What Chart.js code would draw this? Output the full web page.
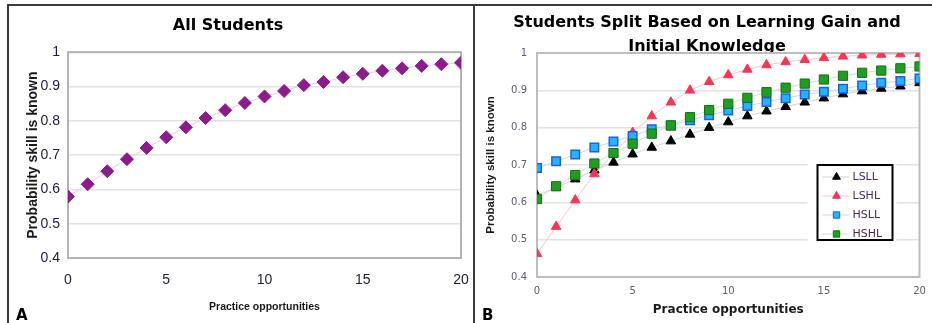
<!DOCTYPE html>
<html>
<head>
<meta charset="utf-8">
<script src="https://cdn.jsdelivr.net/npm/chart.js@4.4.1/dist/chart.umd.min.js"></script>
<style>
body { margin: 0; background: #fff; width: 932px; height: 323px; overflow: hidden; position: relative; }
canvas { position: absolute; top: 0; }
.frame { position: absolute; background: #3a3a3a; }
.tag { position: absolute; font: bold 15px "DejaVu Sans"; color: #000; }
</style>
</head>
<body>
<canvas id="chartA" width="485" height="323" style="left:-10px"></canvas>
<canvas id="chartB" width="451" height="323" style="left:476px"></canvas>
<div class="frame" style="left:7px;top:4px;width:925px;height:2px"></div>
<div class="frame" style="left:7px;top:4px;width:2px;height:319px"></div>
<div class="frame" style="left:473px;top:4px;width:2px;height:319px"></div>
<div class="tag" style="left:16px;top:306px">A</div>
<div class="tag" style="left:482px;top:306px">B</div>
<script>
// data
const opportunities = [0, 1, 2, 3, 4, 5, 6, 7, 8, 9, 10, 11, 12, 13, 14, 15, 16, 17, 18, 19, 20];
const allStudents = [0.579, 0.615, 0.653, 0.688, 0.721, 0.752, 0.781, 0.808, 0.831, 0.852, 0.871,
    0.887, 0.904, 0.913, 0.927, 0.937, 0.946, 0.953, 0.960, 0.965, 0.969];
const lsll = [0.618, 0.640, 0.662, 0.686, 0.707, 0.729, 0.747, 0.764, 0.782, 0.800, 0.815,
    0.831, 0.844, 0.856, 0.868, 0.879, 0.890, 0.898, 0.905, 0.911, 0.920];
const lshl = [0.462, 0.535, 0.606, 0.676, 0.730, 0.787, 0.831, 0.868, 0.900, 0.923, 0.941,
    0.956, 0.968, 0.976, 0.982, 0.987, 0.991, 0.994, 0.996, 0.997, 0.998];
const hsll = [0.692, 0.710, 0.728, 0.747, 0.763, 0.778, 0.796, 0.806, 0.820, 0.833, 0.846,
    0.858, 0.869, 0.879, 0.889, 0.896, 0.904, 0.913, 0.920, 0.925, 0.932];
const hshl = [0.609, 0.643, 0.673, 0.704, 0.732, 0.757, 0.784, 0.806, 0.828, 0.847, 0.864,
    0.880, 0.895, 0.907, 0.918, 0.929, 0.939, 0.947, 0.953, 0.959, 0.964];
const yTicks = [0.4, 0.5, 0.6, 0.7, 0.8, 0.9, 1];
const xTicks = [0, 5, 10, 15, 20];

const points = vals => opportunities.map((x, i) => ({ x: x, y: vals[i] }));

// grey box round the plot area
const plotFrame = {
    id: 'plotFrame',
    beforeDatasetsDraw(chart, args, opts) {
        const { ctx, chartArea: a } = chart;
        ctx.save();
        ctx.strokeStyle = opts.color;
        ctx.lineWidth = opts.width;
        ctx.strokeRect(a.left, a.top, a.right - a.left, a.bottom - a.top);
        ctx.restore();
    }
};

// boxed legend inside the plot, like the Excel one
const boxLegend = {
    id: 'boxLegend',
    afterDraw(chart) {
        const { ctx, chartArea: a } = chart;
        const x0 = a.right - 102, y0 = a.top + 112, w = 75, h = 75;
        ctx.save();
        ctx.fillStyle = '#fff';
        ctx.fillRect(x0 - 10, y0 - 5, w + 14, h + 10);
        ctx.strokeStyle = '#000';
        ctx.lineWidth = 2;
        ctx.strokeRect(x0, y0, w, h);
        chart.data.datasets.forEach((ds, i) => {
            const y = y0 + 12 + i * 19;
            ctx.strokeStyle = ds.borderColor;
            ctx.lineWidth = 1;
            ctx.beginPath();
            ctx.moveTo(x0 + 5, y);
            ctx.lineTo(x0 + 32, y);
            ctx.stroke();
            ctx.fillStyle = ds.pointBackgroundColor;
            ctx.strokeStyle = ds.pointBorderColor;
            Chart.helpers.drawPoint(ctx, { pointStyle: ds.pointStyle, rotation: 0, radius: 4.5, borderWidth: 1 }, x0 + 19, y);
            ctx.fillStyle = '#4a2a5e';
            ctx.font = '11px "DejaVu Sans"';
            ctx.textBaseline = 'middle';
            ctx.textAlign = 'left';
            ctx.fillText(ds.label, x0 + 35, y);
        });
        ctx.restore();
    }
};

function axes(o) {
    return {
        x: {
            type: 'linear', min: 0, max: 20,
            afterBuildTicks: s => { s.ticks = xTicks.map(v => ({ value: v })); },
            afterFit: s => { s.height = o.xHeight; },
            grid: { display: false },
            border: { display: false },
            ticks: { font: o.tickFont, color: o.tickColor, padding: o.xPad, callback: v => String(v) },
            title: { display: true, text: 'Practice opportunities', font: o.xTitleFont, color: '#1a1a1a', padding: { top: 4, bottom: o.xTitlePad } }
        },
        y: {
            min: 0.4, max: 1,
            afterBuildTicks: s => { s.ticks = yTicks.map(v => ({ value: v })); },
            afterFit: s => { s.width = o.yWidth; },
            grid: { color: '#e2e2e2', lineWidth: 1.5, drawTicks: false },
            border: { display: false },
            ticks: { font: o.tickFont, color: o.tickColor, padding: o.yPad, callback: v => String(v) },
            title: { display: true, text: 'Probability skill is known', font: o.yTitleFont, color: '#1a1a1a', padding: { top: o.yTitlePad, bottom: 0 } }
        }
    };
}

new Chart(document.getElementById('chartA'), {
    type: 'line',
    data: {
        datasets: [{
            label: 'All Students',
            data: points(allStudents),
            borderColor: '#efc9ef',
            borderWidth: 1,
            pointStyle: 'rectRot',
            pointRadius: 6.5,
            pointBackgroundColor: '#8c1c8c',
            pointBorderColor: '#8c1c8c',
            tension: 0
        }]
    },
    options: {
        responsive: false,
        animation: false,
        layout: { padding: { left: 5, right: 14, top: 0, bottom: 6 } },
        plugins: {
            legend: { display: false },
            tooltip: { enabled: false },
            title: { display: true, text: 'All Students', color: '#000', font: { family: 'DejaVu Sans', size: 16, weight: 'bold' }, padding: { top: 16, bottom: 17 } },
            plotFrame: { color: '#b2b2b2', width: 2 }
        },
        scales: axes({
            xHeight: 59, yWidth: 73, xPad: 6, yPad: 8, yTitlePad: 30, xTitlePad: 4,
            tickFont: { family: 'Liberation Sans', size: 14 }, tickColor: '#1c1c3c',
            xTitleFont: { family: 'Liberation Sans', size: 10.5, weight: 'bold' },
            yTitleFont: { family: 'Liberation Sans', size: 14, weight: 'bold' }
        })
    },
    plugins: [plotFrame]
});

new Chart(document.getElementById('chartB'), {
    type: 'line',
    data: {
        datasets: [
            { label: 'LSLL', data: points(lsll), order: 4, borderColor: '#d4d4d4', borderWidth: 1, pointStyle: 'triangle', pointRadius: 5.5, pointBackgroundColor: '#000', pointBorderColor: '#000' },
            { label: 'LSHL', data: points(lshl), order: 3, borderColor: '#ffc4cc', borderWidth: 1, pointStyle: 'triangle', pointRadius: 5.5, pointBackgroundColor: '#ff3355', pointBorderColor: '#ff3355' },
            { label: 'HSLL', data: points(hsll), order: 2, borderColor: '#c8d8f8', borderWidth: 1, pointStyle: 'rect', pointRadius: 6, pointBorderWidth: 1.5, pointBackgroundColor: '#22b4ff', pointBorderColor: '#1f5fe0' },
            { label: 'HSHL', data: points(hshl), order: 1, borderColor: '#c8e4c8', borderWidth: 1, pointStyle: 'rect', pointRadius: 6.5, pointBorderWidth: 1, pointBackgroundColor: '#1f9e1f', pointBorderColor: '#137013' }
        ]
    },
    options: {
        responsive: false,
        animation: false,
        layout: { padding: { left: 18, right: 7, top: 0, bottom: 3 } },
        plugins: {
            legend: { display: false },
            tooltip: { enabled: false },
            title: {
                display: true,
                text: ['Students Split Based on Learning Gain and', 'Initial Knowledge'],
                color: '#000',
                font: { family: 'DejaVu Sans', size: 16, weight: 'bold', lineHeight: 1.5 },
                padding: { top: 11, bottom: -6 }
            },
            plotFrame: { color: '#bdbdbd', width: 2 }
        },
        scales: axes({
            xHeight: 43, yWidth: 43, xPad: 0, yPad: 10, yTitlePad: -10, xTitlePad: 3,
            tickFont: { family: 'DejaVu Sans', size: 10 }, tickColor: '#5a5a7a',
            xTitleFont: { family: 'DejaVu Sans', size: 12, weight: 'bold' },
            yTitleFont: { family: 'Liberation Sans', size: 11.5, weight: 'bold' }
        })
    },
    plugins: [plotFrame, boxLegend]
});
</script>
</body>
</html>
